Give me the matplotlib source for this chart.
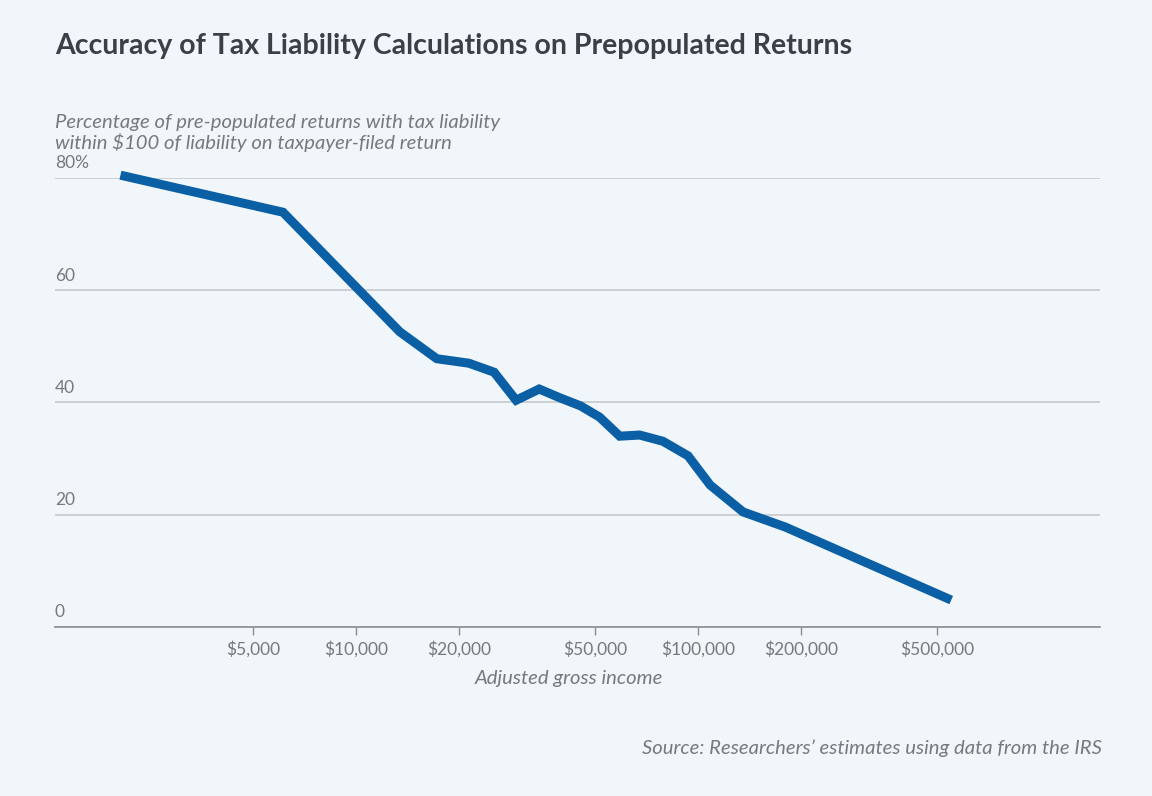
import matplotlib.pyplot as plt
import matplotlib.transforms as mtransforms
from matplotlib.ticker import FixedLocator, NullLocator

# Datos (ingreso bruto ajustado, porcentaje)
agi = [2040, 6100, 13400, 17200, 21350, 25300, 29350, 34300, 39550, 45300,
       51500, 59000, 67500, 78900, 93500, 108500, 135500, 180300, 551000]
pct = [80.5, 73.9, 52.6, 47.8, 47.0, 45.4, 40.4, 42.4, 40.8, 39.4,
       37.4, 34.0, 34.2, 33.1, 30.5, 25.3, 20.5, 17.8, 4.8]

x_ticks = [5000, 10000, 20000, 50000, 100000, 200000, 500000]
x_labels = ['$5,000', '$10,000', '$20,000', '$50,000', '$100,000', '$200,000', '$500,000']
y_ticks = [0, 20, 40, 60, 80]
y_labels = ['0', '20', '40', '60', '80%']

BG = '#f1f6fa'
AZUL = '#0b5fa5'
GRIS = '#76797e'

plt.rcParams['font.family'] = ['Lato', 'DejaVu Sans']

fig = plt.figure(figsize=(11.52, 7.96), dpi=100, facecolor=BG)
ax = fig.add_axes([0.0477, 0.2123, 0.9071, 0.5641], facecolor=BG)

ax.plot(agi, pct, color=AZUL, linewidth=6.5, solid_joinstyle='miter',
        solid_capstyle='butt', clip_on=False, zorder=3)

ax.set_xscale('log')
ax.set_xlim(1312, 1501000)
ax.set_ylim(0, 80)

ax.xaxis.set_major_locator(FixedLocator(x_ticks))
ax.xaxis.set_minor_locator(NullLocator())
ax.set_xticklabels(x_labels, fontsize=12.5, color=GRIS)
ax.tick_params(axis='x', length=6, width=1, color='#8a8d91', pad=4)

ax.set_yticks(y_ticks)
ax.set_yticklabels([])
ax.tick_params(axis='y', length=0)
ax.grid(axis='y', color='#c5c9ce', linewidth=1.2)

# Etiquetas del eje y encima de la cuadrícula
trans = mtransforms.blended_transform_factory(ax.transAxes, ax.transData)
for v, lab in zip(y_ticks, y_labels):
    ax.text(0.0, v + 1.2, lab, transform=trans, fontsize=12.5, color=GRIS,
            ha='left', va='bottom')

for s in ['top', 'right', 'left']:
    ax.spines[s].set_visible(False)
ax.spines['bottom'].set_color('#8a8d91')
ax.spines['bottom'].set_linewidth(1.2)

ax.set_xlabel('Adjusted gross income', fontsize=14.6, color=GRIS,
              style='italic')
ax.xaxis.set_label_coords(0.4914, -0.096)

fig.text(55 / 1152, 1 - 46 / 796, 'Accuracy of Tax Liability Calculations on Prepopulated Returns',
         fontsize=20.5, fontweight='bold', color='#3b4046', ha='left', va='center')
fig.text(55 / 1152, 1 - 133 / 796,
         'Percentage of pre-populated returns with tax liability\nwithin $100 of liability on taxpayer-filed return',
         fontsize=14.6, style='italic', color=GRIS, ha='left', va='center', linespacing=1.15)
fig.text(1102 / 1152, 1 - 748 / 796, 'Source: Researchers\u2019 estimates using data from the IRS',
         fontsize=14.6, style='italic', color=GRIS, ha='right', va='center')

fig.savefig('out.png', dpi=100, facecolor=BG)
